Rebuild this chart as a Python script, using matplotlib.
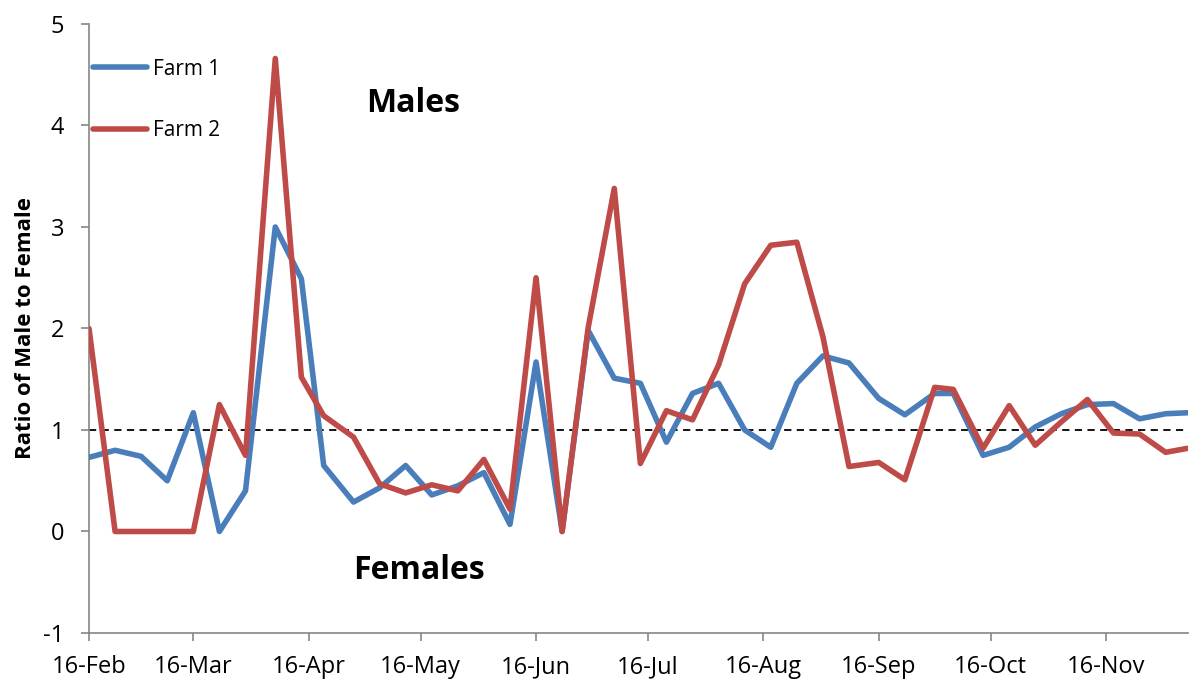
import numpy as np
import pandas as pd
import matplotlib.pyplot as plt
import matplotlib.dates as mdates

plt.rcParams['font.family'] = ['Open Sans', 'DejaVu Sans']
plt.rcParams['axes.unicode_minus'] = False

dates = ['2015-02-16', '2015-02-23', '2015-03-02', '2015-03-09', '2015-03-16',
         '2015-03-23', '2015-03-30', '2015-04-07', '2015-04-14', '2015-04-20',
         '2015-04-28', '2015-05-05', '2015-05-12', '2015-05-19', '2015-05-26',
         '2015-06-02', '2015-06-09', '2015-06-16', '2015-06-23', '2015-06-30',
         '2015-07-07', '2015-07-14', '2015-07-21', '2015-07-28', '2015-08-04',
         '2015-08-11', '2015-08-18', '2015-08-25', '2015-09-01', '2015-09-08',
         '2015-09-16', '2015-09-23', '2015-10-01', '2015-10-06', '2015-10-14',
         '2015-10-21', '2015-10-28', '2015-11-04', '2015-11-11', '2015-11-18',
         '2015-11-25', '2015-12-02', '2015-12-08']

farm1 = [0.73, 0.80, 0.74, 0.50, 1.17, 0.00, 0.40, 3.00, 2.49, 0.65,
         0.29, 0.43, 0.65, 0.36, 0.45, 0.58, 0.07, 1.67, 0.00, 1.98,
         1.51, 1.46, 0.88, 1.36, 1.46, 1.00, 0.83, 1.46, 1.73, 1.66,
         1.31, 1.15, 1.36, 1.36, 0.75, 0.83, 1.03, 1.16, 1.25, 1.26,
         1.11, 1.16, 1.17]

farm2 = [2.00, 0.00, 0.00, 0.00, 0.00, 1.25, 0.75, 4.66, 1.52, 1.14,
         0.93, 0.47, 0.38, 0.46, 0.40, 0.71, 0.22, 2.50, 0.00, 2.01,
         3.38, 0.67, 1.19, 1.10, 1.64, 2.44, 2.82, 2.85, 1.92, 0.64,
         0.68, 0.51, 1.42, 1.40, 0.82, 1.24, 0.85, 1.08, 1.30, 0.97,
         0.96, 0.78, 0.82]

tick_dates = ['2015-02-16', '2015-03-16', '2015-04-16', '2015-05-16', '2015-06-16',
              '2015-07-16', '2015-08-16', '2015-09-16', '2015-10-16', '2015-11-16']

x = pd.to_datetime(dates)
ticks = pd.to_datetime(tick_dates)

fig = plt.figure(figsize=(11.9, 6.81), dpi=100)
ax = fig.add_axes([0.0748, 0.0705, 0.9235, 0.8943])

# reference line at ratio 1
ax.axhline(1, color='black', lw=1.3, ls=(0, (4, 3)), zorder=1)
ax.plot(x, farm1, color='#4A7EBB', lw=4, solid_joinstyle='round', solid_capstyle='round', label='Farm 1', zorder=3)
ax.plot(x, farm2, color='#BE4B48', lw=4, solid_joinstyle='round', solid_capstyle='round', label='Farm 2', zorder=4)

ax.set_xlim(x[0], x[-1])
ax.set_ylim(-1, 5)
ax.set_xticks(ticks)
ax.xaxis.set_major_formatter(mdates.DateFormatter('%d-%b'))
ax.set_yticks(range(-1, 6))

for s in ['top', 'right']:
    ax.spines[s].set_visible(False)
for s in ['left', 'bottom']:
    ax.spines[s].set_color('#868686')
    ax.spines[s].set_linewidth(1.2)
ax.tick_params(axis='both', colors='#868686', labelcolor='black', labelsize=17, length=6, width=1.2)
ax.tick_params(axis='y', pad=12)
ax.tick_params(axis='x', pad=10)

ax.set_ylabel('Ratio of Male to Female', fontsize=16, fontweight='bold', labelpad=5)

ax.text(0.295, 0.870, 'Males', transform=ax.transAxes, fontsize=23, fontweight='bold', ha='center', va='center')
ax.text(0.300, 0.102, 'Females', transform=ax.transAxes, fontsize=23, fontweight='bold', ha='center', va='center')

ax.legend(loc='upper left', bbox_to_anchor=(0.004, 0.943), frameon=False, fontsize=15,
          labelspacing=1.95, handlelength=2.55, handletextpad=0.3, borderaxespad=0, borderpad=0)

plt.savefig('out.png', dpi=100)
